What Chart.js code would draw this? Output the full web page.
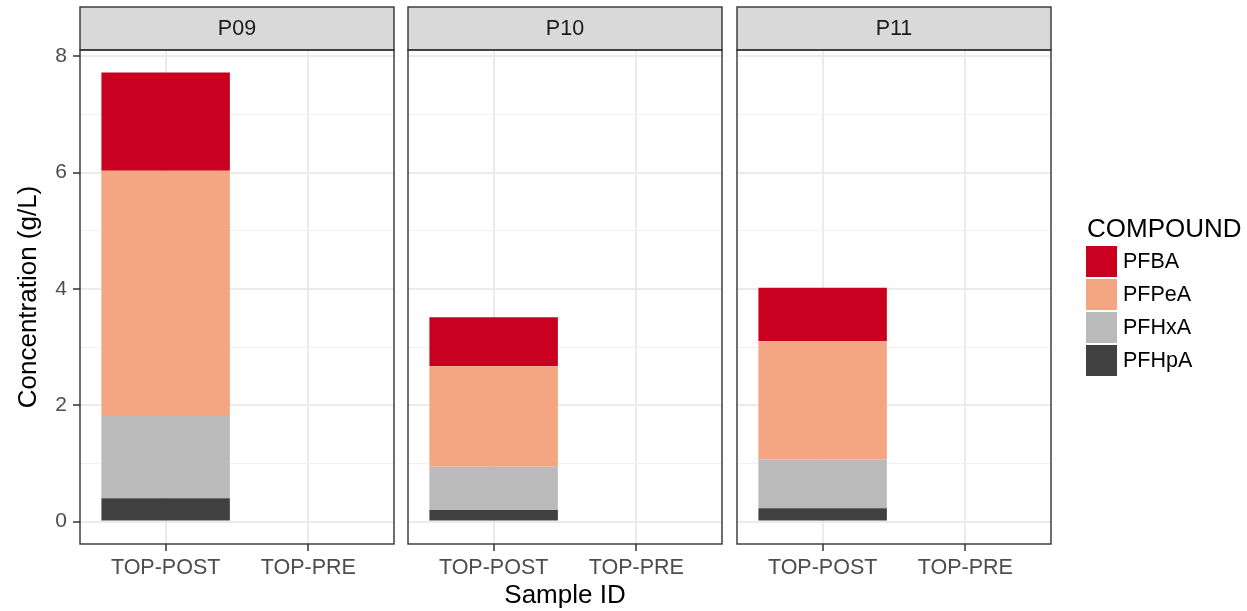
<!DOCTYPE html>
<html>
<head>
<meta charset="utf-8">
<title>Concentration by sample</title>
<script src="https://cdn.jsdelivr.net/npm/chart.js@4/dist/chart.umd.min.js"></script>
<style>
  html, body { margin: 0; padding: 0; background: #ffffff; }
  #wrap { position: relative; width: 1247px; height: 611px; overflow: hidden; background: #ffffff; }
  #wrap canvas { position: absolute; top: 0; }
</style>
</head>
<body>
<div id="wrap">
  <canvas id="panelP09" width="401" height="611" style="left:0px"></canvas>
  <canvas id="panelP10" width="329" height="611" style="left:401px"></canvas>
  <canvas id="panelP11" width="517" height="611" style="left:730px"></canvas>
</div>
<script>
// ---- data -------------------------------------------------------------
const samples   = ['P09', 'P10', 'P11'];
const positions = ['TOP-POST', 'TOP-PRE'];
const compounds = ['PFBA', 'PFPeA', 'PFHxA', 'PFHpA'];
const compoundColors = ['#CA0020', '#F4A582', '#BABABA', '#404040'];

// TOP-POST concentrations (g/L), one value per sample
const pfbaPost  = [1.69, 0.84, 0.92];
const pfpeaPost = [4.20, 1.73, 2.03];
const pfhxaPost = [1.43, 0.74, 0.84];
const pfhpaPost = [0.40, 0.20, 0.23];
// TOP-PRE: nothing reported for any sample
const prePost   = [null, null, null];

const yTicks = [0, 2, 4, 6, 8];

// ---- derived scale settings ------------------------------------------
const postByCompound = [pfbaPost, pfpeaPost, pfhxaPost, pfhpaPost];
const stackTotals = samples.map((s, i) => postByCompound.reduce((t, arr) => t + (arr[i] || 0), 0));
const yTop = Math.max(...stackTotals);
const yMin = -0.05 * yTop;
const yMax = yTop * 1.05;
// major breaks plus the minor breaks halfway between them
const gridValues = [];
yTicks.forEach((v, k) => {
  gridValues.push(v);
  if (k < yTicks.length - 1) gridValues.push((v + yTicks[k + 1]) / 2);
});

const FONT = '"Liberation Sans", Arial, Helvetica, sans-serif';
Chart.defaults.font.family = FONT;

// panel frame + grey facet strip
const stripPlugin = {
  id: 'strip',
  afterDraw(chart, args, opts) {
    const { ctx, chartArea: a } = chart;
    const stripTop = 7;
    ctx.save();
    ctx.fillStyle = '#D9D9D9';
    ctx.fillRect(a.left, stripTop, a.right - a.left, a.top - stripTop);
    ctx.strokeStyle = '#333333';
    ctx.lineWidth = 1.4;
    ctx.strokeRect(a.left, stripTop, a.right - a.left, a.top - stripTop);
    ctx.strokeRect(a.left, a.top, a.right - a.left, a.bottom - a.top);
    ctx.fillStyle = '#1A1A1A';
    ctx.font = '21.5px ' + FONT;
    ctx.textAlign = 'center';
    ctx.textBaseline = 'middle';
    ctx.fillText(opts.text, (a.left + a.right) / 2, (stripTop + a.top) / 2 + 0.5);
    ctx.restore();
  }
};

// fill legend at the right of the last panel
const compoundKeyPlugin = {
  id: 'compoundKey',
  afterDraw(chart, args, opts) {
    if (!opts.show) return;
    const { ctx, chartArea: a } = chart;
    const x0 = a.right + 35;
    const keyTop = 245;
    const step = 33;
    ctx.save();
    ctx.fillStyle = '#000000';
    ctx.font = '26px ' + FONT;
    ctx.textAlign = 'left';
    ctx.textBaseline = 'alphabetic';
    ctx.fillText(opts.title, x0 + 1, 236.5);
    const items = chart.data.datasets.slice().reverse();
    items.forEach((ds, k) => {
      const y = keyTop + k * step;
      ctx.fillStyle = ds.backgroundColor;
      ctx.fillRect(x0, y + 1, 31, step - 2);
      ctx.fillStyle = '#000000';
      ctx.font = '21.5px ' + FONT;
      ctx.textBaseline = 'middle';
      ctx.fillText(ds.label, x0 + 37, y + step / 2 + 1);
    });
    ctx.restore();
  }
};

function makePanel(canvasId, i, cfg) {
  // stacked from the bottom: PFHpA first, PFBA on top
  const datasets = compounds.map((name, c) => ({
    label: name,
    data: positions.map((p, k) => ({ x: k + 1, y: k === 0 ? postByCompound[c][i] : prePost[i] })),
    backgroundColor: compoundColors[c],
    borderWidth: 0,
    barPercentage: 0.9,
    categoryPercentage: 1.0
  })).reverse();

  return new Chart(document.getElementById(canvasId), {
    type: 'bar',
    data: { datasets },
    plugins: [stripPlugin, compoundKeyPlugin],
    options: {
      responsive: false,
      animation: false,
      devicePixelRatio: 1,
      layout: { padding: { left: cfg.padLeft, right: cfg.padRight, top: 50, bottom: 0 } },
      plugins: {
        legend: { display: false },
        tooltip: { enabled: false },
        strip: { text: samples[i] },
        compoundKey: { show: !!cfg.legend, title: 'COMPOUND' }
      },
      scales: {
        x: {
          type: 'linear',
          stacked: true,
          offset: false,
          min: 0.4,
          max: positions.length + 0.6,
          afterBuildTicks: s => { s.ticks = positions.map((p, k) => ({ value: k + 1 })); },
          afterFit: s => { s.height = 67; },
          ticks: {
            callback: v => positions[v - 1],
            font: { size: 21.5 },
            color: '#4D4D4D',
            padding: 4,
            maxRotation: 0,
            autoSkip: false
          },
          grid: {
            offset: false,
            color: '#EBEBEB',
            lineWidth: 2,
            drawTicks: true,
            tickLength: 7,
            tickColor: '#333333',
            tickWidth: 1.5
          },
          border: { display: false },
          title: {
            display: !!cfg.xTitle,
            text: 'Sample ID',
            font: { size: 26 },
            color: '#000000',
            padding: 0
          }
        },
        y: {
          type: 'linear',
          stacked: true,
          min: yMin,
          max: yMax,
          afterBuildTicks: s => { s.ticks = gridValues.map(v => ({ value: v })); },
          afterFit: s => { s.width = cfg.showY ? 80 : 0; },
          ticks: {
            display: !!cfg.showY,
            callback: v => (yTicks.includes(v) ? String(v) : ''),
            font: { size: 21 },
            color: '#4D4D4D',
            padding: 6
          },
          grid: {
            color: c => (yTicks.includes(c.tick && c.tick.value) ? '#EBEBEB' : '#F1F1F1'),
            lineWidth: c => (yTicks.includes(c.tick && c.tick.value) ? 2 : 1),
            drawTicks: !!cfg.showY,
            tickLength: 7,
            tickWidth: 1.5,
            tickColor: c => (yTicks.includes(c.tick && c.tick.value) ? '#333333' : 'rgba(0,0,0,0)')
          },
          border: { display: false },
          title: {
            display: !!cfg.showY,
            text: 'Concentration (g/L)',
            font: { size: 26 },
            color: '#000000',
            padding: { top: 13, bottom: 0 }
          }
        }
      }
    }
  });
}

makePanel('panelP09', 0, { showY: true, padLeft: 0, padRight: 7 });
makePanel('panelP10', 1, { xTitle: true, padLeft: 7, padRight: 8 });
makePanel('panelP11', 2, { legend: true, padLeft: 7, padRight: 196 });
</script>
</body>
</html>
